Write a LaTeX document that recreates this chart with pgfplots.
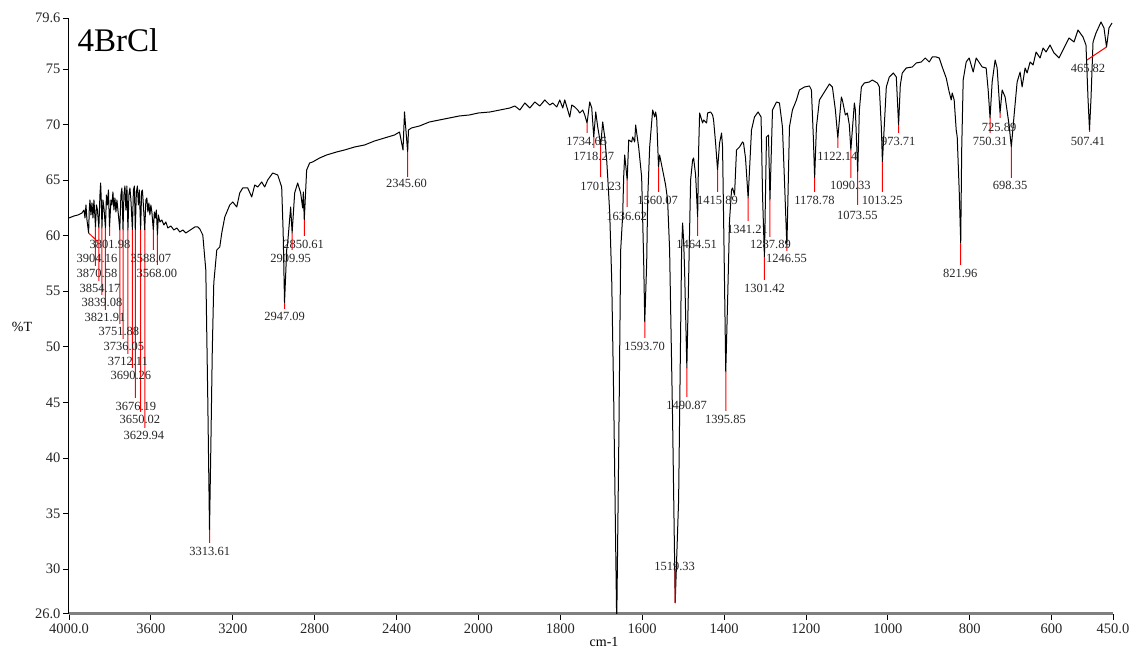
\documentclass[border=0pt]{standalone}
\usepackage{pgfplots}
\usepackage{pgfplotstable}
\pgfplotsset{compat=1.18}
\usepackage{fontspec}
\setmainfont{Liberation Serif}

% wavenumber -> position on the split axis (4000-2000: 400 per tick, 2000-450: 200 per tick)
\newcommand{\wnx}[1]{((#1>=2000)*(4000-#1)/400+(#1<2000)*(5+(2000-#1)/200))}

\pgfplotstableread{
wn T
4000 61.6
3975.6 61.78
3956.1 61.87
3936.6 62.05
3926.8 62.32
3922.0 61.6
3917.1 62.77
3912.2 61.42
3904.16 60.25
3901.0 62.32
3897.6 63.22
3892.7 61.87
3887.8 62.95
3882.9 61.6
3878.1 63.22
3870.58 60.79
3865.9 62.77
3861.0 62.32
3854.17 60.7
3848.8 63.67
3845.4 64.75
3841.5 62.77
3839.08 60.7
3834.2 63.22
3829.3 62.5
3821.91 60.7
3817.1 63.67
3812.2 62.77
3807.3 64.12
3801.98 60.79
3795.1 63.22
3790.3 62.77
3785.4 63.94
3780.5 62.32
3775.6 63.4
3770.8 62.14
3765.9 63.22
3758.6 61.87
3751.88 60.52
3746.4 63.67
3741.5 64.3
3736.05 60.52
3731.7 63.67
3726.8 64.48
3722.0 62.32
3717.1 64.48
3712.11 60.52
3707.3 63.67
3702.4 64.3
3697.5 63.22
3690.26 60.52
3685.4 64.12
3680.5 64.48
3676.19 60.52
3670.8 63.94
3665.9 64.48
3661.0 62.77
3656.1 64.12
3650.02 60.52
3645.4 63.94
3641.5 64.12
3636.6 62.77
3629.94 60.52
3624.4 63.22
3619.6 63.4
3614.7 62.14
3609.8 62.95
3604.9 61.87
3600.0 62.77
3595.1 62.14
3588.07 60.52
3582.9 62.14
3578.1 61.6
3573.2 62.32
3568.00 60.07
3563.4 61.87
3556.1 61.24
3546.4 61.42
3536.6 60.97
3526.8 61.24
3517.1 60.7
3502.5 60.88
3487.8 60.52
3473.2 60.7
3458.6 60.34
3443.9 60.52
3429.3 60.25
3414.6 60.43
3400.0 60.61
3385.4 60.79
3370.8 60.79
3361.0 60.61
3346.4 60.07
3331.7 56.92
3322.0 45.22
3313.61 33.52
3307.3 40.72
3300.0 49.72
3292.7 55.75
3278.1 58.72
3263.4 58.99
3253.7 60.25
3239.0 61.69
3214.7 62.77
3200.0 63.04
3180.5 62.59
3166.0 63.85
3151.3 64.3
3126.9 64.3
3107.4 63.49
3092.7 64.57
3078.1 64.39
3058.6 64.84
3044.0 64.39
3029.3 65.02
3004.9 65.65
2980.5 65.47
2961.0 64.39
2953.7 60.25
2947.09 53.95
2936.6 58.72
2931.7 59.35
2917.2 62.59
2909.95 60.25
2897.6 63.85
2883.0 64.75
2868.3 63.85
2858.6 62.5
2855.2 63.94
2850.61 61.42
2839.1 65.92
2824.4 66.55
2809.8 66.64
2775.6 67.0
2741.5 67.27
2692.8 67.54
2653.7 67.72
2605.0 67.99
2556.1 68.17
2507.4 68.53
2458.6 68.8
2409.8 69.07
2385.4 69.34
2368.3 67.72
2361.0 71.14
2356.1 69.97
2345.60 67.54
2341.5 69.52
2327.0 69.7
2287.9 69.88
2239.6 70.24
2190.9 70.42
2142.1 70.6
2093.3 70.78
2044.6 70.87
2000 71.05
1972.0 71.14
1947.6 71.32
1923.2 71.5
1911.0 71.68
1898.8 71.32
1886.6 71.95
1874.4 71.5
1862.3 72.04
1850.1 71.68
1837.9 72.22
1825.7 71.77
1818.4 71.95
1808.6 71.59
1801.3 72.22
1794.0 71.5
1789.1 72.22
1781.8 71.32
1776.9 70.69
1772.0 71.77
1764.7 71.59
1757.4 71.32
1752.5 71.05
1745.2 71.32
1740.3 70.87
1734.65 70.15
1728.1 72.04
1723.2 71.5
1718.27 68.89
1713.4 71.14
1708.6 69.79
1701.23 68.17
1696.4 70.24
1691.5 68.89
1686.7 66.82
1684.2 65.29
1679.3 62.05
1674.4 56.02
1669.5 45.22
1662.2 25.0
1657.3 40.72
1652.5 58.72
1647.6 61.87
1645.2 65.29
1642.7 67.27
1640.3 66.37
1636.62 65.02
1632.9 68.62
1625.6 68.44
1623.2 68.89
1618.3 68.44
1615.9 69.97
1613.4 69.25
1608.6 67.99
1601.3 65.29
1596.4 57.82
1593.70 52.24
1589.0 57.55
1586.6 63.22
1581.7 67.99
1574.4 71.32
1569.5 70.69
1567.1 71.14
1564.6 70.6
1560.07 66.19
1557.4 67.27
1550.1 65.92
1542.8 64.57
1537.9 63.22
1533.0 58.72
1525.7 43.42
1519.33 26.95
1511.0 36.22
1503.7 58.72
1501.3 61.15
1498.8 59.62
1496.4 56.92
1490.87 48.1
1486.6 56.02
1481.7 65.02
1476.8 66.82
1474.4 67.0
1469.5 65.47
1464.51 61.69
1462.1 67.72
1459.7 71.05
1452.4 70.15
1449.9 70.42
1442.6 70.15
1440.2 71.05
1432.9 71.14
1428.0 70.87
1425.6 70.42
1420.7 68.35
1415.89 65.92
1411.0 68.35
1406.1 69.25
1403.7 67.99
1400.0 58.72
1395.85 47.74
1391.5 53.92
1386.6 61.42
1381.7 64.12
1379.3 64.3
1374.4 63.67
1369.6 67.72
1362.2 67.99
1354.9 68.44
1352.5 68.35
1347.6 67.0
1341.21 63.4
1333.0 69.52
1325.7 70.69
1316.9 71.14
1309.6 70.69
1305.9 63.49
1301.42 58.09
1296.4 68.89
1291.5 69.07
1287.89 63.22
1281.7 71.32
1272.0 72.04
1264.7 71.95
1257.4 69.79
1252.5 65.02
1246.55 58.99
1240.3 69.79
1233.0 71.32
1223.2 72.22
1215.9 73.12
1203.7 73.39
1191.5 73.48
1186.6 73.12
1181.7 68.62
1178.78 65.2
1174.4 69.79
1167.1 72.22
1154.9 72.94
1142.7 73.66
1135.4 73.39
1128.1 71.32
1122.14 68.8
1113.5 72.49
1111.0 72.22
1103.7 70.87
1098.8 71.05
1094.0 69.97
1090.33 67.72
1081.7 71.95
1079.3 71.32
1073.55 65.74
1069.5 71.32
1064.6 73.39
1057.4 73.75
1045.2 73.84
1037.9 74.02
1025.7 73.75
1020.8 73.39
1015.9 69.79
1013.25 66.64
1003.7 73.39
996.4 74.29
986.6 74.65
979.3 74.29
973.71 69.97
969.5 73.57
964.7 74.65
954.9 75.1
940.3 75.19
930.5 75.55
918.3 75.64
908.6 76.0
898.8 75.64
891.5 76.09
881.7 76.09
874.4 76.0
867.1 75.19
857.4 74.2
850.1 72.94
845.2 72.22
842.8 72.85
837.9 72.22
833.0 69.52
830.5 68.89
825.7 64.12
821.96 59.35
819.6 67.72
815.9 74.02
808.6 75.64
801.3 76.0
791.5 74.74
784.2 76.0
769.5 75.19
759.8 75.1
754.9 73.12
750.31 70.6
745.2 73.84
737.9 75.82
733.0 75.1
725.89 71.05
720.8 73.12
713.5 72.49
703.8 69.97
698.35 67.99
691.5 70.87
684.2 73.84
676.9 74.74
672.0 73.39
664.7 75.1
659.8 74.65
652.5 75.64
645.2 75.37
637.9 76.54
628.1 76.0
620.8 76.9
613.5 76.54
603.8 77.17
594.0 76.45
581.8 76.0
569.6 76.9
557.4 77.8
545.2 77.44
535.5 78.52
523.3 77.89
516.0 77.17
511.1 72.4
507.41 69.52
503.7 72.4
498.8 77.44
491.5 78.25
479.3 79.24
472.0 78.7
465.82 76.99
459.8 78.7
452.4 79.15
}\spec

\pgfplotstableread{
wn T
3904.16 60.25
3863.4 59.53
0 nan
3870.58 60.79
3870.58 57.28
0 nan
3854.17 60.7
3854.17 55.93
0 nan
3839.08 60.7
3839.08 54.67
0 nan
3821.91 60.7
3821.91 53.32
0 nan
3801.98 60.79
3801.98 59.98
0 nan
3751.88 60.52
3751.88 52.06
0 nan
3736.05 60.52
3736.05 50.71
0 nan
3712.11 60.52
3712.11 49.36
0 nan
3690.26 60.52
3690.26 48.1
0 nan
3676.19 60.52
3676.19 45.4
0 nan
3650.02 60.52
3650.02 44.14
0 nan
3629.94 60.52
3629.94 42.7
0 nan
3588.07 60.52
3588.07 58.72
0 nan
3568.00 60.07
3568.00 57.37
0 nan
3313.61 33.52
3313.61 32.35
0 nan
2947.09 53.95
2947.09 53.41
0 nan
2909.95 60.25
2909.95 58.72
0 nan
2850.61 61.42
2850.61 59.98
0 nan
2345.60 67.54
2345.60 65.29
0 nan
1734.65 70.15
1734.65 69.25
0 nan
1718.27 68.89
1718.27 67.9
0 nan
1701.23 68.17
1701.23 65.29
0 nan
1636.62 65.02
1636.62 62.59
0 nan
1593.70 52.24
1593.70 50.8
0 nan
1560.07 66.19
1560.07 63.94
0 nan
1519.33 26.95
1519.33 30.0
0 nan
1490.87 48.1
1490.87 45.49
0 nan
1464.51 61.69
1464.51 59.98
0 nan
1415.89 65.92
1415.89 63.94
0 nan
1395.85 47.74
1395.85 44.23
0 nan
1341.21 63.4
1341.21 61.33
0 nan
1301.42 58.09
1301.42 56.02
0 nan
1287.89 63.22
1287.89 59.89
0 nan
1246.55 58.99
1246.55 58.63
0 nan
1178.78 65.2
1178.78 63.94
0 nan
1122.14 68.8
1122.14 67.9
0 nan
1090.33 67.72
1090.33 65.2
0 nan
1073.55 65.74
1073.55 62.77
0 nan
1013.25 66.64
1013.25 63.94
0 nan
973.71 69.97
973.71 69.25
0 nan
821.96 59.35
821.96 57.37
0 nan
750.31 70.6
750.31 69.25
0 nan
725.89 71.05
725.89 70.6
0 nan
698.35 67.99
698.35 65.2
0 nan
507.41 69.52
507.41 69.34
0 nan
465.82 76.99
513.5 75.82
}\redlines

\pgfplotstableread{
wn T lab
3800.0 59.26 3801.98
3863.4 58.0 3904.16
3863.4 56.65 3870.58
3848.8 55.3 3854.17
3839.0 54.04 3839.08
3824.4 52.69 3821.91
3756.1 51.43 3751.88
3731.7 50.08 3736.05
3712.2 48.73 3712.11
3697.6 47.47 3690.26
3673.2 44.68 3676.19
3653.7 43.51 3650.02
3634.2 42.07 3629.94
3600.0 58.0 3588.07
3570.8 56.65 3568.00
3312.2 31.63 3313.61
2946.4 52.78 2947.09
2917.1 58.0 2909.95
2853.7 59.26 2850.61
2351.3 64.75 2345.60
1735.4 68.53 1734.65
1718.3 67.18 1718.27
1701.2 64.48 1701.23
1637.9 61.78 1636.62
1593.9 50.0 1593.70
1562.2 63.22 1560.07
1520.8 30.28 1519.33
1491.5 44.77 1490.87
1467.1 59.26 1464.51
1415.9 63.22 1415.89
1396.4 43.51 1395.85
1342.7 60.61 1341.21
1301.3 55.3 1301.42
1286.7 59.26 1287.89
1247.6 58.0 1246.55
1179.3 63.22 1178.78
1123.2 67.18 1122.14
1091.4 64.57 1090.33
1074.4 61.87 1073.55
1013.5 63.22 1013.25
974.5 68.53 973.71
823.2 56.65 821.96
750.1 68.53 750.31
728.1 69.79 725.89
701.3 64.57 698.35
511.0 68.53 507.41
511.0 75.1 465.82
}\labels

\begin{document}
\begin{tikzpicture}
\begin{axis}[
  scale only axis,
  width=1044pt, height=595.5pt,
  xmin=0, xmax=12.75,
  ymin=26, ymax=79.6,
  axis lines=left,
  axis line style={-},
  x axis line style={draw=black!50, line width=2.2pt},
  y axis line style={draw=black, line width=1pt},
  tick align=outside,
  major tick length=6pt,
  tick style={black, line width=0.9pt},
  xtick={0,1,2,3,4,5,6,7,8,9,10,11,12,12.75},
  xticklabels={4000.0,3600,3200,2800,2400,2000,1800,1600,1400,1200,1000,800,600,450.0},
  ytick={26,30,35,40,45,50,55,60,65,70,75,79.6},
  yticklabels={26.0,30,35,40,45,50,55,60,65,70,75,79.6},
  tick label style={font=\fontsize{14.5}{16}\selectfont, text=black!85},
  xticklabel style={yshift=-1pt},
  yticklabel style={xshift=1pt},
  xlabel={cm-1},
  xlabel style={font=\fontsize{14}{16}\selectfont, at={(axis description cs:0.5125,-0.047)}, anchor=center},
  ylabel={\%T},
  ylabel style={font=\fontsize{14}{16}\selectfont, rotate=-90, at={(axis description cs:-0.045,0.481)}, anchor=center},
  unbounded coords=jump,
]
\addplot[black, line width=1.0pt, line join=round] table[x expr={\wnx{\thisrow{wn}}}, y=T]{\spec};
\addplot[red, line width=1pt] table[x expr={\wnx{\thisrow{wn}}}, y=T]{\redlines};
\addplot[draw=none, mark=none, nodes near coords, point meta=explicit symbolic,
  nodes near coords style={anchor=center, inner sep=0pt, font=\fontsize{12.5}{14}\selectfont, text=black!85}]
  table[x expr={\wnx{\thisrow{wn}}}, y=T, meta=lab]{\labels};
\node[anchor=west, inner sep=0pt, font=\fontsize{33}{36}\selectfont] at (rel axis cs:0.008,0.962) {4BrCl};
\end{axis}
\pgfresetboundingbox
\path[use as bounding box] ([xshift=-69pt,yshift=-37.5pt]current axis.south west) rectangle ([xshift=22pt,yshift=18pt]current axis.north east);
\end{tikzpicture}
\end{document}
